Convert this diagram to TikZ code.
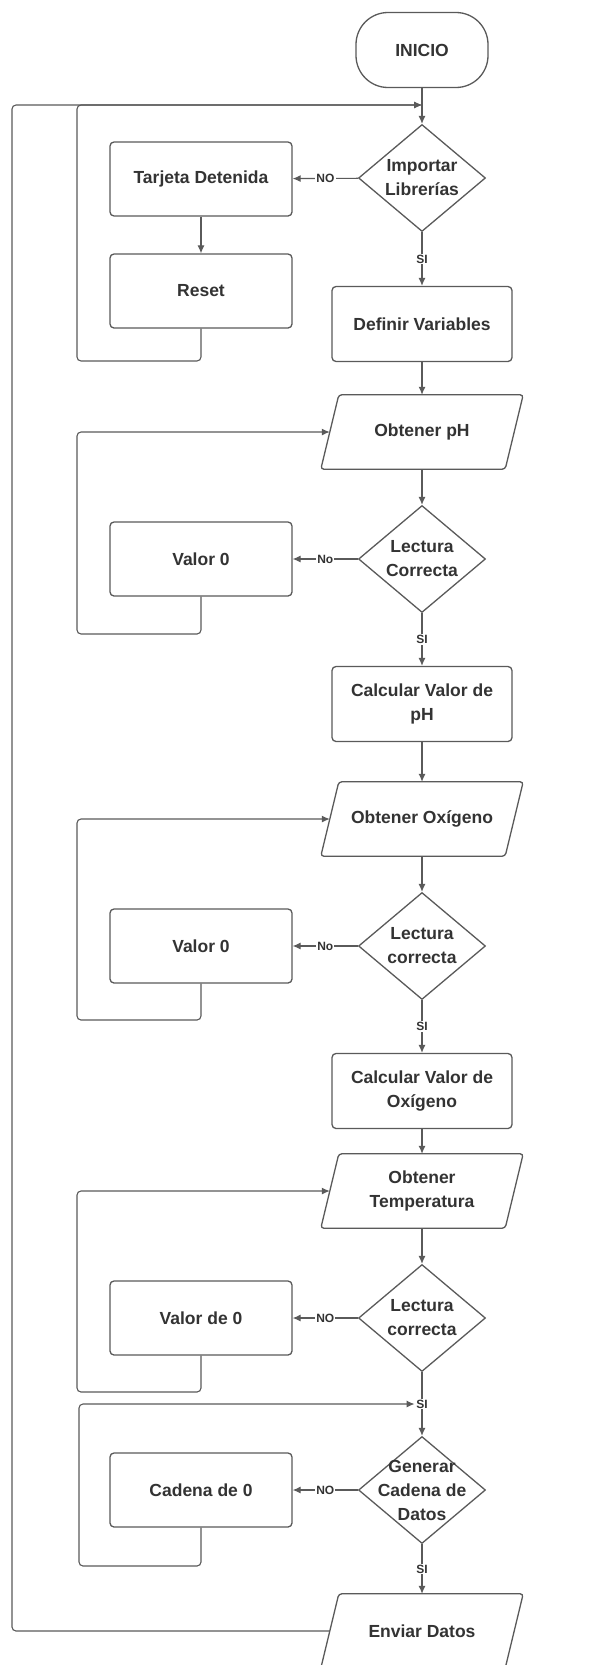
\documentclass[tikz,border=0pt]{standalone}
\usepackage{fontspec}
\setmainfont{Liberation Sans}
\usetikzlibrary{shapes.geometric,arrows.meta,calc}

\definecolor{linec}{HTML}{5A5A5A}
\definecolor{textc}{HTML}{333333}

\tikzset{
  boxtext/.style={text=textc, font=\bfseries\fontsize{17.5}{24}\selectfont, align=center},
  base/.style={boxtext, draw=linec, line width=1.3pt},
  proc/.style={base, rectangle, rounded corners=4pt, minimum width=180pt, minimum height=75pt, inner sep=2pt},
  side/.style={proc, minimum width=182pt, minimum height=74pt},
  term/.style={base, rectangle, rounded corners=32pt, minimum width=132pt, minimum height=75pt},
  dec/.style={draw=linec, line width=1.3pt, diamond, inner sep=0pt, minimum width=127pt, minimum height=107pt},
  io/.style={boxtext, rectangle, minimum width=184pt, minimum height=74pt, inner sep=0pt},
  slant/.style={draw=linec, line width=1.3pt, rounded corners=3pt},
  flow/.style={draw=linec, line width=1.1pt, -{Latex[length=8pt,width=7pt]}},
  back/.style={flow, rounded corners=4pt},
  tag/.style={fill=white, text=textc, font=\bfseries\fontsize{12}{13}\selectfont, inner sep=1.2pt},
}

% input/output box: a parallelogram around a plain rectangular node
\newcommand\slantbox[1]{%
  \draw[slant] ([xshift=9pt]#1.north west) -- ([xshift=9pt]#1.north east)
    -- ([xshift=-9pt]#1.south east) -- ([xshift=-9pt]#1.south west) -- cycle;}

\begin{document}
\begin{tikzpicture}[x=1pt, y=-1pt]
  \clip (0,0) rectangle (589,1665);
  \fill[white] (0,0) rectangle (589,1665);

  % main column
  \node[term] (start) at (422,50) {INICIO};
  \coordinate (j1) at (422,105);
  \node[dec, label={[boxtext]center:Importar\\Librerías}] (d1) at (422,178) {};
  \node[proc] (defvar) at (422,324) {Definir Variables};
  \node[io] (p1) at (422,432) {Obtener pH};
  \node[dec, label={[boxtext]center:Lectura\\Correcta}] (d2) at (422,559) {};
  \node[proc] (calc1) at (422,704) {Calcular Valor de\\pH};
  \node[io] (p2) at (422,819) {Obtener Oxígeno};
  \node[dec, label={[boxtext]center:Lectura\\correcta}] (d3) at (422,946) {};
  \node[proc] (calc2) at (422,1091) {Calcular Valor de\\Oxígeno};
  \node[io] (p3) at (422,1191) {Obtener\\Temperatura};
  \node[dec, label={[boxtext]center:Lectura\\correcta}] (d4) at (422,1318) {};
  \node[dec, label={[boxtext]center:Generar\\Cadena de\\Datos}] (d5) at (422,1490) {};
  \node[io] (p4) at (422,1631) {Enviar Datos};

  \slantbox{p1}
  \slantbox{p2}
  \slantbox{p3}
  \slantbox{p4}

  % side column
  \node[side] (tarjeta) at (201,179) {Tarjeta Detenida};
  \node[side] (reset) at (201,291) {Reset};
  \node[side] (v1) at (201,559) {Valor 0};
  \node[side] (v2) at (201,946) {Valor 0};
  \node[side] (v3) at (201,1318) {Valor de 0};
  \node[side] (v4) at (201,1490) {Cadena de 0};

  % forward flow
  \draw[flow] (start) -- (d1);
  \draw[flow] (d1) -- node[tag] {SI} (defvar);
  \draw[flow] (defvar) -- (p1);
  \draw[flow] (p1) -- (d2);
  \draw[flow] (d2) -- node[tag] {SI} (calc1);
  \draw[flow] (calc1) -- (p2);
  \draw[flow] (p2) -- (d3);
  \draw[flow] (d3) -- node[tag] {SI} (calc2);
  \draw[flow] (calc2) -- (p3);
  \draw[flow] (p3) -- (d4);
  \draw[flow] (d4) -- node[tag] (si4) {SI} (d5);
  \draw[flow] (d5) -- node[tag] {SI} (p4);

  % failure branches
  \draw[flow] (d1) -- node[tag] {NO} (tarjeta);
  \draw[flow] (tarjeta) -- (reset);
  \draw[flow] (d2) -- node[tag] {No} (v1);
  \draw[flow] (d3) -- node[tag] {No} (v2);
  \draw[flow] (d4) -- node[tag] {NO} (v3);
  \draw[flow] (d5) -- node[tag] {NO} (v4);

  % return loops
  \draw[back] (reset.south) |- (77,361) -- (77,105) -- (j1);
  \draw[back] (v1.south) |- (77,634) |- (p1.west);
  \draw[back] (v2.south) |- (77,1020) |- (p2.west);
  \draw[back] (v3.south) |- (77,1392) |- (p3.west);
  \draw[back] (v4.south) |- (79,1566) |- (si4.west);
  \draw[back] (p4.west) -| (12,105) -- (j1);
\end{tikzpicture}
\end{document}
